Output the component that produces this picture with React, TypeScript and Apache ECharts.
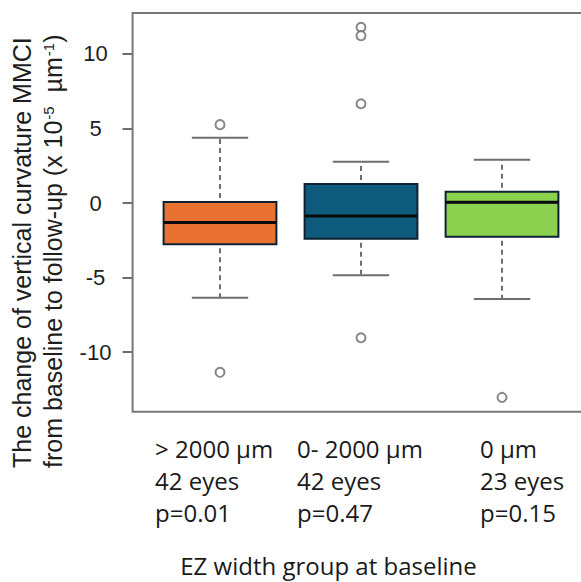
import React, { useEffect, useRef } from "react";
import * as echarts from "echarts";

// ---- data ----
const groupNames = ["> 2000 µm", "0- 2000 µm", "0 µm"];
const eyeCounts = ["42 eyes", "42 eyes", "23 eyes"];
const pValues = ["p=0.01", "p=0.47", "p=0.15"];

const lowerWhisker = [-6.35, -4.85, -6.44];
const q1 = [-2.77, -2.39, -2.26];
const median = [-1.3, -0.87, 0.05];
const q3 = [0.07, 1.28, 0.76];
const upperWhisker = [4.38, 2.77, 2.91];

const outliers = [
  [5.26, -11.36],
  [11.79, 11.23, 6.66, -9.04],
  [-13.04],
];

const yTicks = [-10, -5, 0, 5, 10];
const xTitle = "EZ width group at baseline";
const yTitle1 = "The change of vertical curvature MMCI";
const yTitle2 = "from baseline to follow-up (x 10{sup|-5}  µm{sup|-1})";

// ---- style ----
const boxColors = ["#E97132", "#0F5B7E", "#8BD04F"];
const labelLeft = [155, 297, 480];
const W = 581;
const H = 582;

export default function App() {
  const ref = useRef<HTMLDivElement>(null);
  useEffect(() => {
    if (!ref.current) return;
    const chart = echarts.init(ref.current, null, { renderer: "svg" });
    const gray = "#6e6e6e";
    const outlierData: number[][] = [];
    outliers.forEach((arr, i) => arr.forEach((v) => outlierData.push([i, v])));

    const option: any = {
      animation: false,
      backgroundColor: "#ffffff",
      grid: {
        left: 149.5,
        top: 13,
        width: 423,
        height: 398.7,
        outerBoundsMode: "none",
        containLabel: false,
      },
      xAxis: {
        type: "category",
        data: groupNames,
        boundaryGap: true,
        axisLine: { show: false },
        axisTick: {
          show: true,
          alignWithLabel: true,
          interval: 0,
          length: 10,
          lineStyle: { color: gray, width: 2 },
        },
        axisLabel: { show: false },
        splitLine: { show: false },
      },
      yAxis: {
        type: "value",
        min: -14,
        max: 12.75,
        offset: 17,
        axisLine: { show: false },
        axisTick: {
          show: true,
          length: 10,
          customValues: yTicks,
          lineStyle: { color: gray, width: 2 },
        },
        axisLabel: {
          customValues: yTicks,
          margin: 37,
          align: "center",
          fontSize: 22,
          fontFamily: "Liberation Sans",
          color: "#1e1e1e",
        },
        splitLine: { show: false },
      },
      series: [
        {
          type: "boxplot",
          z: 2,
          boxWidth: ["80%", "80%"],
          emphasis: { disabled: true },
          itemStyle: { borderColor: "#0E2233", borderWidth: 2 },
          data: groupNames.map((_, i) => ({
            value: [q1[i], q1[i], median[i], q3[i], q3[i]],
            itemStyle: { color: boxColors[i] },
          })),
        },
        {
          type: "custom",
          z: 3,
          encode: { x: 0, y: [1, 2, 3, 4, 5] },
          data: groupNames.map((_, i) => [
            i,
            lowerWhisker[i],
            q1[i],
            median[i],
            q3[i],
            upperWhisker[i],
          ]),
          renderItem: (params: any, api: any) => {
            const idx = api.value(0);
            const lo = api.coord([idx, api.value(1)]);
            const b1 = api.coord([idx, api.value(2)]);
            const md = api.coord([idx, api.value(3)]);
            const b3 = api.coord([idx, api.value(4)]);
            const hi = api.coord([idx, api.value(5)]);
            const band = api.size([1, 0])[0];
            const capHalf = band * 0.2;
            const boxHalf = band * 0.4;
            const dashed = { stroke: gray, lineWidth: 2, lineDash: [5, 4], fill: null };
            const solid = { stroke: gray, lineWidth: 2, fill: null };
            return {
              type: "group",
              children: [
                { type: "line", shape: { x1: lo[0], y1: b1[1] + 4, x2: lo[0], y2: lo[1] }, style: dashed },
                { type: "line", shape: { x1: hi[0], y1: b3[1] - 4, x2: hi[0], y2: hi[1] }, style: dashed },
                { type: "line", shape: { x1: lo[0] - capHalf, y1: lo[1], x2: lo[0] + capHalf, y2: lo[1] }, style: solid },
                { type: "line", shape: { x1: hi[0] - capHalf, y1: hi[1], x2: hi[0] + capHalf, y2: hi[1] }, style: solid },
                { type: "line", shape: { x1: md[0] - boxHalf, y1: md[1], x2: md[0] + boxHalf, y2: md[1] }, style: { stroke: "#0a0a0a", lineWidth: 3 } },
              ],
            };
          },
        },
        {
          type: "scatter",
          z: 4,
          symbol: "emptyCircle",
          symbolSize: 9,
          itemStyle: { color: "#6a6a6a", borderWidth: 1.6 },
          emphasis: { disabled: true },
          data: outlierData,
        },
      ],
      graphic: [
        {
          type: "rect",
          silent: true,
          shape: { x: 132.6, y: 13, width: 456.4, height: 398.7 },
          style: { fill: null, stroke: "#777", lineWidth: 2 },
          z: 10,
        },
        ...groupNames.map((name, i) => ({
          type: "text",
          x: labelLeft[i],
          y: 432,
          style: {
            text: `${name}\n${eyeCounts[i]}\n${pValues[i]}`,
            fontSize: 24,
            fontFamily: "Open Sans",
            fill: "#1a1a1a",
            lineHeight: 32,
            align: "left",
            verticalAlign: "top",
          },
        })),
        {
          type: "text",
          x: 328.5,
          y: 565,
          style: {
            text: xTitle,
            fontSize: 24,
            fontFamily: "Open Sans",
            fill: "#1a1a1a",
            align: "center",
            verticalAlign: "middle",
          },
        },
        {
          type: "text",
          x: 22,
          y: 468,
          rotation: Math.PI / 2,
          style: {
            text: yTitle1,
            fontSize: 25,
            fontFamily: "Liberation Sans",
            fill: "#1e1e1e",
            align: "left",
            verticalAlign: "middle",
          },
        },
        {
          type: "text",
          x: 53,
          y: 468,
          rotation: Math.PI / 2,
          style: {
            text: yTitle2,
            fontSize: 25,
            fontFamily: "Liberation Sans",
            fill: "#1e1e1e",
            align: "left",
            verticalAlign: "middle",
            rich: {
              sup: {
                fontSize: 15,
                fontFamily: "Liberation Sans",
                fill: "#1e1e1e",
                verticalAlign: "top",
                padding: [0, 0, 0, 1],
              },
            },
          },
        },
      ],
    };
    chart.setOption(option);
    return () => chart.dispose();
  }, []);
  return (
    <div
      ref={ref}
      style={{ position: "fixed", left: 0, top: 0, width: W, height: H, background: "#fff" }}
    />
  );
}
